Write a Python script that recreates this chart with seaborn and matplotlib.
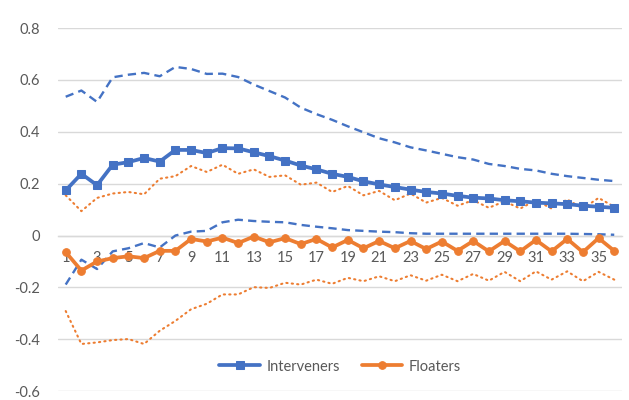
import numpy as np
import pandas as pd
import matplotlib
matplotlib.use("Agg")
import matplotlib.pyplot as plt
import seaborn as sns

# ====== DATA ======
periods = list(range(1, 37))

interveners = [0.174, 0.238, 0.194, 0.273, 0.283, 0.299, 0.285, 0.330, 0.330, 0.318,
               0.337, 0.336, 0.321, 0.306, 0.289, 0.270, 0.255, 0.238, 0.226, 0.209,
               0.197, 0.187, 0.177, 0.168, 0.162, 0.153, 0.146, 0.143, 0.136, 0.132,
               0.127, 0.124, 0.121, 0.115, 0.111, 0.107]
interveners_hi = [0.535, 0.559, 0.515, 0.610, 0.620, 0.627, 0.614, 0.650, 0.642, 0.623,
                  0.624, 0.611, 0.582, 0.557, 0.532, 0.493, 0.468, 0.446, 0.421, 0.398,
                  0.375, 0.359, 0.340, 0.328, 0.315, 0.302, 0.293, 0.276, 0.268, 0.257,
                  0.251, 0.238, 0.229, 0.222, 0.215, 0.210]
interveners_lo = [-0.189, -0.093, -0.129, -0.061, -0.049, -0.029, -0.046, 0.000, 0.015, 0.018,
                  0.051, 0.061, 0.056, 0.053, 0.051, 0.041, 0.034, 0.028, 0.021, 0.018,
                  0.015, 0.013, 0.009, 0.007, 0.007, 0.007, 0.007, 0.007, 0.007, 0.007,
                  0.007, 0.007, 0.007, 0.006, 0.005, 0.003]

floaters = [-0.064, -0.135, -0.100, -0.087, -0.080, -0.087, -0.059, -0.059, -0.013, -0.023,
            -0.008, -0.029, -0.004, -0.026, -0.010, -0.033, -0.013, -0.046, -0.017, -0.049,
            -0.021, -0.049, -0.021, -0.052, -0.023, -0.059, -0.021, -0.061, -0.021, -0.061,
            -0.017, -0.061, -0.013, -0.064, -0.010, -0.059]
floaters_hi = [0.155, 0.094, 0.145, 0.162, 0.168, 0.159, 0.219, 0.229, 0.268, 0.245,
               0.273, 0.238, 0.255, 0.226, 0.232, 0.196, 0.204, 0.168, 0.191, 0.155,
               0.172, 0.136, 0.162, 0.127, 0.145, 0.115, 0.136, 0.107, 0.132, 0.104,
               0.136, 0.104, 0.139, 0.104, 0.145, 0.111]
floaters_lo = [-0.291, -0.418, -0.412, -0.403, -0.399, -0.418, -0.367, -0.329, -0.284, -0.263,
               -0.227, -0.227, -0.199, -0.202, -0.182, -0.189, -0.170, -0.186, -0.163, -0.176,
               -0.157, -0.176, -0.153, -0.174, -0.151, -0.176, -0.148, -0.174, -0.140, -0.176,
               -0.138, -0.170, -0.138, -0.176, -0.140, -0.170]

y_ticks = [-0.6, -0.4, -0.2, 0, 0.2, 0.4, 0.6, 0.8]
x_ticks = list(range(1, 37, 2))

BLUE = "#4472C4"
ORANGE = "#ED7D31"
GREY_TXT = "#595959"
GRID = "#D9D9D9"

# ====== PLOT ======
sns.set_style("white")
plt.rcParams["font.family"] = ["Lato", "DejaVu Sans"]

fig = plt.figure(figsize=(6.29, 4.0), dpi=100)
ax = fig.add_axes([0.092, 0.022, 0.897, 0.908])

# confidence bands
sns.lineplot(x=periods, y=interveners_hi, ax=ax, color=BLUE, lw=1.7,
             linestyle=(0, (3.5, 2.2)))
sns.lineplot(x=periods, y=interveners_lo, ax=ax, color=BLUE, lw=1.7,
             linestyle=(0, (3.5, 2.2)))
sns.lineplot(x=periods, y=floaters_hi, ax=ax, color=ORANGE, lw=1.5,
             linestyle=(0, (0.6, 2.0)), dash_capstyle="round")
sns.lineplot(x=periods, y=floaters_lo, ax=ax, color=ORANGE, lw=1.5,
             linestyle=(0, (0.6, 2.0)), dash_capstyle="round")

# main series
sns.lineplot(x=periods, y=interveners, ax=ax, color=BLUE, lw=2.7,
             marker="s", markersize=5.5, markeredgecolor=BLUE, label="Interveners")
sns.lineplot(x=periods, y=floaters, ax=ax, color=ORANGE, lw=2.7,
             marker="o", markersize=5.5, markeredgecolor=ORANGE, label="Floaters")

ax.set_xlim(0.5, 36.5)
ax.set_ylim(-0.6, 0.8)
ax.set_yticks(y_ticks)
ax.set_yticklabels(["-0.6", "-0.4", "-0.2", "0", "0.2", "0.4", "0.6", "0.8"])
ax.set_xticks(x_ticks)
ax.set_xticklabels([str(t) for t in x_ticks])

ax.yaxis.grid(True, color=GRID, lw=1.0)
ax.set_axisbelow(True)
for s in ["left", "right", "top"]:
    ax.spines[s].set_visible(False)
ax.spines["bottom"].set_position(("data", 0))
ax.spines["bottom"].set_color(GRID)
ax.spines["bottom"].set_linewidth(1.0)
ax.spines["bottom"].set_zorder(0.5)

ax.tick_params(axis="both", length=0, colors=GREY_TXT, labelsize=10.5)
ax.tick_params(axis="x", pad=11)
ax.tick_params(axis="y", pad=13)
ax.set_xlabel("")
ax.set_ylabel("")

ax.legend(loc="center", bbox_to_anchor=(0.5, 0.068), ncol=2, frameon=False,
          fontsize=10.5, labelcolor=GREY_TXT, handlelength=2.8, columnspacing=1.5,
          handletextpad=0.4)

fig.savefig("out.png", dpi=100)
